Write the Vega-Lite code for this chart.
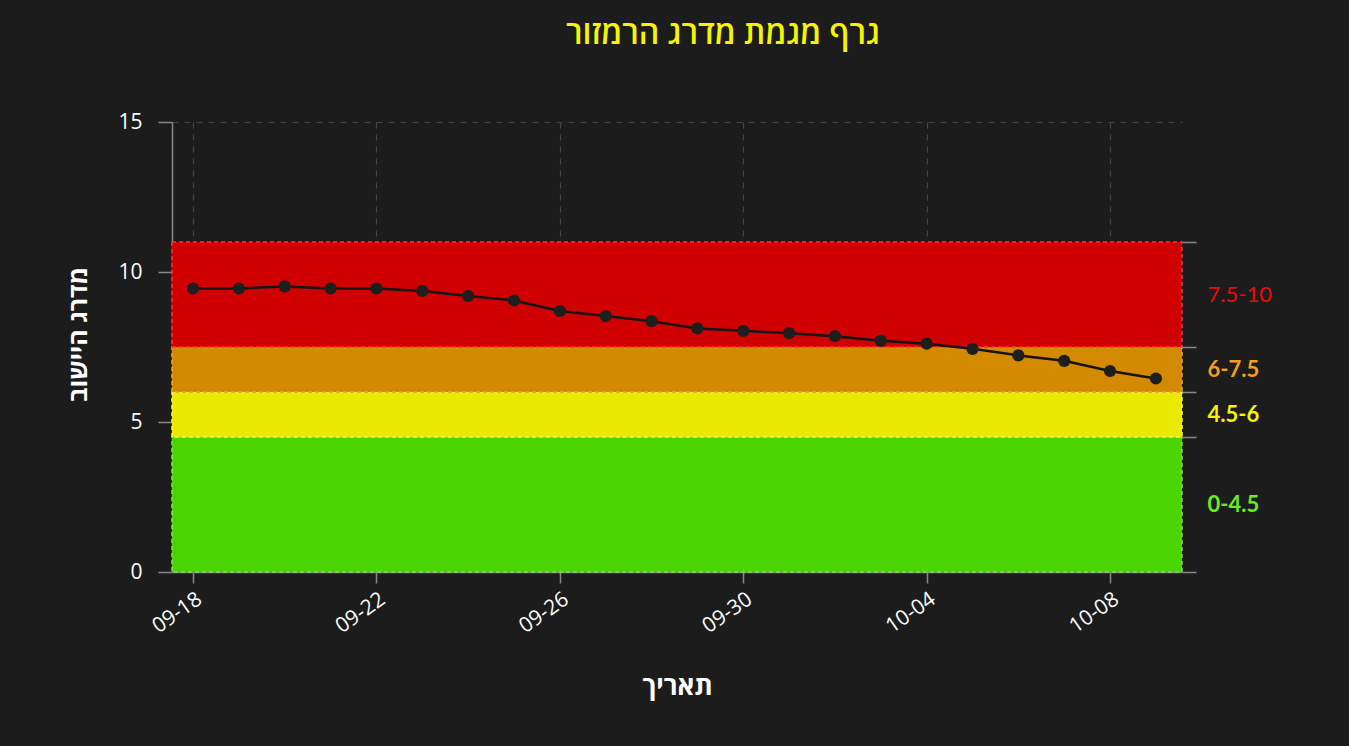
{
  "$schema": "https://vega.github.io/schema/vega-lite/v6.json",
  "autosize": {"type": "none"},
  "width": 1010,
  "height": 450,
  "padding": {"left": 172, "top": 122, "right": 167, "bottom": 174},
  "background": "#1c1c1c",
  "config": {
    "view": {"stroke": null},
    "font": "Open Sans",
    "axis": {"labelFont": "Open Sans", "titleFont": "Open Sans"}
  },
  "title": {
    "text": "גרף מגמת מדרג הרמזור",
    "color": "#f5f500",
    "fontSize": 32,
    "fontWeight": 600,
    "font": "Open Sans",
    "anchor": "middle",
    "dx": 46,
    "offset": 60
  },
  "datasets": {
    "series": [
      {"date": "2020-09-18T00:00:00", "value": 9.45},
      {"date": "2020-09-19T00:00:00", "value": 9.45},
      {"date": "2020-09-20T00:00:00", "value": 9.52},
      {"date": "2020-09-21T00:00:00", "value": 9.45},
      {"date": "2020-09-22T00:00:00", "value": 9.45},
      {"date": "2020-09-23T00:00:00", "value": 9.37},
      {"date": "2020-09-24T00:00:00", "value": 9.2},
      {"date": "2020-09-25T00:00:00", "value": 9.05},
      {"date": "2020-09-26T00:00:00", "value": 8.7},
      {"date": "2020-09-27T00:00:00", "value": 8.53},
      {"date": "2020-09-28T00:00:00", "value": 8.36},
      {"date": "2020-09-29T00:00:00", "value": 8.12},
      {"date": "2020-09-30T00:00:00", "value": 8.04},
      {"date": "2020-10-01T00:00:00", "value": 7.96},
      {"date": "2020-10-02T00:00:00", "value": 7.86},
      {"date": "2020-10-03T00:00:00", "value": 7.71},
      {"date": "2020-10-04T00:00:00", "value": 7.61},
      {"date": "2020-10-05T00:00:00", "value": 7.44},
      {"date": "2020-10-06T00:00:00", "value": 7.22},
      {"date": "2020-10-07T00:00:00", "value": 7.04},
      {"date": "2020-10-08T00:00:00", "value": 6.7},
      {"date": "2020-10-09T00:00:00", "value": 6.45}
    ],
    "bands": [
      {"low": 0, "high": 4.5, "fill": "#4ad400", "edge": "#7ee050"},
      {"low": 4.5, "high": 6, "fill": "#eaea00", "edge": "#f4f450"},
      {"low": 6, "high": 7.5, "fill": "#d38a00", "edge": "#f0a030"},
      {"low": 7.5, "high": 11, "fill": "#d10000", "edge": "#ff3030"}
    ]
  },
  "layer": [
    {
      "data": {"name": "bands"},
      "mark": {"type": "rect", "strokeDash": [4, 3], "strokeWidth": 1.5},
      "encoding": {
        "y": {
          "field": "low",
          "type": "quantitative",
          "scale": {"domain": [0, 15], "nice": false, "zero": false},
          "axis": {
            "orient": "right",
            "title": null,
            "domain": false,
            "grid": false,
            "values": [0, 2.25, 4.5, 5.25, 6, 6.75, 7.5, 9.25, 11],
            "labelExpr": "datum.value == 2.25 ? '0-4.5' : datum.value == 5.25 ? '4.5-6' : datum.value == 6.75 ? '6-7.5' : datum.value == 9.25 ? '7.5-10' : ''",
            "tickSize": 14,
            "tickWidth": 1.5,
            "tickColor": {
              "condition": {"test": "datum.value == 2.25 || datum.value == 5.25 || datum.value == 6.75 || datum.value == 9.25", "value": "transparent"},
              "value": "#888888"
            },
            "labelPadding": 11,
            "labelFont": "Lato",
            "labelFontSize": 22,
            "labelFontWeight": {
              "condition": {"test": "datum.value == 9.25", "value": "normal"},
              "value": "bold"
            },
            "labelColor": {
              "condition": [
                {"test": "datum.value == 9.25", "value": "#e80c0c"},
                {"test": "datum.value == 6.75", "value": "#f0a020"},
                {"test": "datum.value == 5.25", "value": "#f5f500"}
              ],
              "value": "#66ee22"
            }
          }
        },
        "y2": {"field": "high"},
        "fill": {"field": "fill", "type": "nominal", "scale": null},
        "stroke": {"field": "edge", "type": "nominal", "scale": null}
      }
    },
    {
      "data": {"name": "series"},
      "encoding": {
        "x": {
          "field": "date",
          "type": "temporal",
          "scale": {
            "domain": [
              {"year": 2020, "month": 9, "date": 17, "hours": 13},
              {"year": 2020, "month": 10, "date": 9, "hours": 13, "minutes": 40}
            ]
          },
          "axis": {
            "title": "תאריך",
            "titleColor": "#ffffff",
            "titleFontSize": 26,
            "titleFontWeight": "bold",
            "titleY": 114,
            "titleBaseline": "middle",
            "values": [
              {"year": 2020, "month": 9, "date": 18},
              {"year": 2020, "month": 9, "date": 22},
              {"year": 2020, "month": 9, "date": 26},
              {"year": 2020, "month": 9, "date": 30},
              {"year": 2020, "month": 10, "date": 4},
              {"year": 2020, "month": 10, "date": 8}
            ],
            "format": "%m-%d",
            "labelAngle": -35,
            "labelColor": "#ffffff",
            "labelFontSize": 21,
            "labelPadding": 5,
            "tickSize": 11,
            "tickWidth": 1.5,
            "tickColor": "#888888",
            "domainColor": "#888888",
            "domainWidth": 1.5,
            "grid": true,
            "gridColor": "#444444",
            "gridDash": [6, 6],
            "gridWidth": 1.2
          }
        },
        "y": {
          "field": "value",
          "type": "quantitative",
          "scale": {"domain": [0, 15], "nice": false},
          "axis": {
            "orient": "left",
            "title": "מדרג היישוב",
            "titleColor": "#ffffff",
            "titleFontSize": 25,
            "titleFontWeight": "bold",
            "titleX": -94,
            "titleY": 212,
            "titleAngle": -90,
            "titleBaseline": "middle",
            "values": [0, 5, 10, 15],
            "labelColor": "#ffffff",
            "labelFontSize": 21,
            "labelPadding": 16,
            "tickSize": 14,
            "tickWidth": 1.5,
            "tickColor": "#888888",
            "domainColor": "#888888",
            "domainWidth": 1.5,
            "grid": true,
            "gridColor": "#444444",
            "gridDash": [6, 6],
            "gridWidth": 1.2
          }
        }
      },
      "layer": [
        {"mark": {"type": "line", "color": "#151515", "strokeWidth": 2.5}},
        {"mark": {"type": "point", "filled": true, "color": "#1e1e1e", "opacity": 1, "size": 150}}
      ]
    }
  ],
  "resolve": {"scale": {"y": "independent"}}
}
